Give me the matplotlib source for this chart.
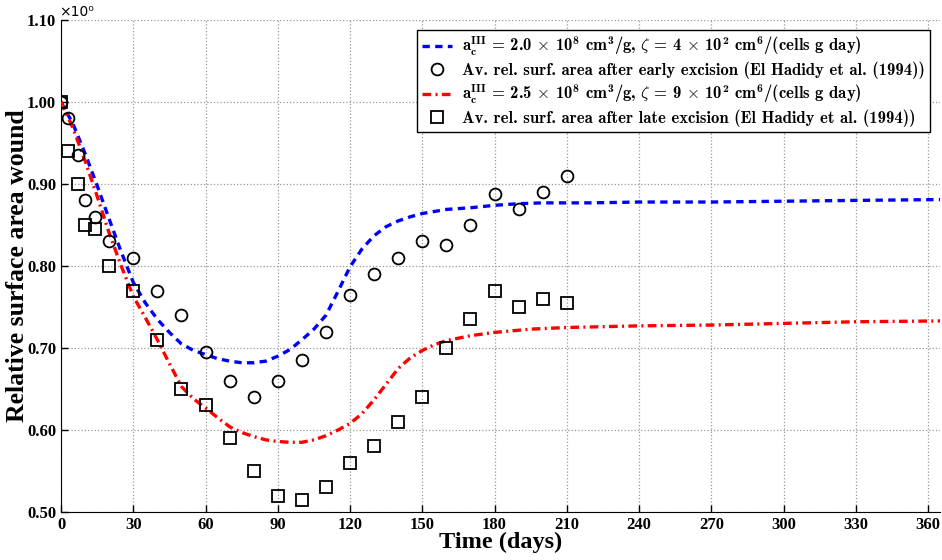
import numpy as np
import matplotlib
matplotlib.use('Agg')
import matplotlib.pyplot as plt

plt.rcParams['font.family'] = 'Liberation Serif'
# bold computer-modern look for the legend math
plt.rcParams['mathtext.fontset'] = 'custom'
plt.rcParams['mathtext.rm'] = 'cmb10'
plt.rcParams['mathtext.it'] = 'cmb10'
plt.rcParams['mathtext.bf'] = 'cmb10'
plt.rcParams['mathtext.sf'] = 'cmb10'

# model curve, early excision (blue)
t_blue = [0, 5, 10, 15, 20, 25, 30, 35, 40, 45, 50, 55, 60, 65, 70, 75, 80, 85, 90, 95,
          100, 105, 110, 115, 120, 125, 130, 135, 140, 145, 150, 160, 170, 180, 190, 200,
          220, 240, 270, 300, 330, 365]
s_blue = [1.0, 0.973, 0.937, 0.898, 0.857, 0.817, 0.780, 0.755, 0.735, 0.719, 0.705, 0.697,
          0.692, 0.687, 0.684, 0.682, 0.682, 0.684, 0.690, 0.698, 0.710, 0.723, 0.740, 0.769,
          0.799, 0.821, 0.837, 0.848, 0.855, 0.860, 0.864, 0.869, 0.871, 0.874, 0.876, 0.877,
          0.877, 0.878, 0.878, 0.879, 0.880, 0.881]

# model curve, late excision (red)
t_red = [0, 5, 10, 15, 20, 25, 30, 35, 40, 45, 50, 55, 60, 65, 70, 75, 80, 85, 90, 95,
         100, 105, 110, 115, 120, 125, 130, 135, 140, 145, 150, 155, 160, 170, 180, 195,
         210, 240, 270, 300, 330, 365]
s_red = [1.0, 0.968, 0.928, 0.885, 0.840, 0.800, 0.763, 0.737, 0.710, 0.681, 0.653, 0.638,
         0.627, 0.615, 0.604, 0.597, 0.592, 0.588, 0.586, 0.585, 0.585, 0.588, 0.593, 0.600,
         0.608, 0.620, 0.637, 0.656, 0.675, 0.688, 0.697, 0.704, 0.709, 0.715, 0.719, 0.723,
         0.725, 0.727, 0.728, 0.730, 0.732, 0.733]

# measurements (El Hadidy et al. 1994)
t_early = [0, 3, 7, 10, 14, 20, 30, 40, 50, 60, 70, 80, 90, 100, 110, 120, 130, 140, 150,
           160, 170, 180, 190, 200, 210]
a_early = [1.0, 0.98, 0.935, 0.88, 0.86, 0.83, 0.81, 0.77, 0.74, 0.695, 0.66, 0.64, 0.66,
           0.685, 0.72, 0.765, 0.79, 0.81, 0.83, 0.825, 0.85, 0.888, 0.87, 0.89, 0.91]
t_late = [0, 3, 7, 10, 14, 20, 30, 40, 50, 60, 70, 80, 90, 100, 110, 120, 130, 140, 150,
          160, 170, 180, 190, 200, 210]
a_late = [1.0, 0.94, 0.90, 0.85, 0.845, 0.80, 0.77, 0.71, 0.65, 0.63, 0.59, 0.55, 0.52,
          0.515, 0.53, 0.56, 0.58, 0.61, 0.64, 0.70, 0.735, 0.77, 0.75, 0.76, 0.755]

lab_blue = r'a$_\mathrm{c}^\mathrm{III}$ = 2.0 $\times$ 10$^8$ cm$^3$/g, $\zeta$ = 4 $\times$ 10$^2$ cm$^6$/(cells g day)'
lab_early = 'Av. rel. surf. area after early excision (El Hadidy et al. (1994))'
lab_red = r'a$_\mathrm{c}^\mathrm{III}$ = 2.5 $\times$ 10$^8$ cm$^3$/g, $\zeta$ = 9 $\times$ 10$^2$ cm$^6$/(cells g day)'
lab_late = 'Av. rel. surf. area after late excision (El Hadidy et al. (1994))'

fig = plt.figure(figsize=(9.42, 5.6), dpi=100)
ax = fig.add_axes([0.0648, 0.0857, 0.9332, 0.8786])

ax.plot(t_blue, s_blue, color='blue', lw=2.4, ls=(0, (2.2, 1.6)), label=lab_blue, zorder=3)
ax.plot(t_early, a_early, 'o', ms=8.5, mfc='none', mec='black', mew=1.3, label=lab_early, zorder=4)
ax.plot(t_red, s_red, color='red', lw=2.4, ls=(0, (2.6, 1.3, 0.6, 1.3)), label=lab_red, zorder=3)
ax.plot(t_late, a_late, 's', ms=8, mfc='none', mec='black', mew=1.3, label=lab_late, zorder=4)

ax.set_xlim(0, 365)
ax.set_ylim(0.5, 1.1)
ax.set_xticks(np.arange(0, 361, 30))
ax.set_yticks(np.arange(0.5, 1.101, 0.1))
ax.set_yticklabels(['%.2f' % v for v in np.arange(0.5, 1.101, 0.1)])
ax.tick_params(direction='in', length=5, width=1, labelsize=12, top=False, right=False)
for lbl in ax.get_xticklabels() + ax.get_yticklabels():
    lbl.set_fontweight('bold')
ax.spines['top'].set_visible(False)
ax.spines['right'].set_visible(False)
ax.grid(True, ls=':', color='#999999', lw=0.9)

ax.set_xlabel('Time (days)', fontsize=17.5, fontweight='bold', labelpad=-1)
ax.set_ylabel('Relative surface area wound', fontsize=18.5, fontweight='bold')
ax.yaxis.set_label_coords(-0.037, 0.5)
# offset text of the y axis
fig.text(0.063, 0.972, '×10⁰', fontsize=10, family='DejaVu Sans')

leg = ax.legend(loc='upper right', handlelength=1.8, borderaxespad=0.6,
                prop={'family': 'cmb10', 'size': 12},
                fancybox=False, framealpha=1, edgecolor='black', borderpad=0.3,
                labelspacing=0.2, handletextpad=0.6)
leg.get_frame().set_linewidth(1.0)

fig.savefig('out.png', dpi=100)
